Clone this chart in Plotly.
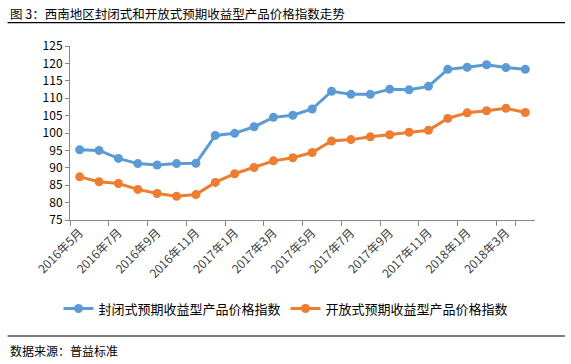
import plotly.graph_objects as go

months = ["2016年5月","2016年6月","2016年7月","2016年8月","2016年9月","2016年10月",
          "2016年11月","2016年12月","2017年1月","2017年2月","2017年3月","2017年4月",
          "2017年5月","2017年6月","2017年7月","2017年8月","2017年9月","2017年10月",
          "2017年11月","2017年12月","2018年1月","2018年2月","2018年3月","2018年4月"]
closed_idx = [95.2, 95.0, 92.7, 91.2, 90.8, 91.2, 91.3, 99.3, 99.9, 101.8, 104.5, 105.1,
              106.9, 112.0, 111.1, 111.1, 112.6, 112.4, 113.4, 118.3, 118.9, 119.6, 118.8, 118.3]
open_idx = [87.4, 86.0, 85.5, 83.8, 82.6, 81.8, 82.3, 85.8, 88.3, 90.1, 92.0, 92.9,
            94.4, 97.7, 98.1, 98.9, 99.5, 100.2, 100.8, 104.2, 105.8, 106.4, 107.1, 105.9]
yticks = [75, 80, 85, 90, 95, 100, 105, 110, 115, 120, 125]
name_closed = "封闭式预期收益型产品价格指数"
name_open = "开放式预期收益型产品价格指数"
title_text = "图 3：西南地区封闭式和开放式预期收益型产品价格指数走势"
source_text = "数据来源：普益标准"

FONT = "Noto Sans CJK SC"
W, H = 571, 364
ML, MR, MT, MB = 69.5, 36, 46, 144
pw, ph = W - ML - MR, H - MT - MB

def px(x):
    return (x - ML) / pw

def py(y):
    return (H - MB - y) / ph

fig = go.Figure()
fig.add_trace(go.Scatter(x=months, y=closed_idx, name=name_closed, mode="lines+markers",
                         line=dict(color="#5B9BD5", width=3),
                         marker=dict(color="#5B9BD5", size=9)))
fig.add_trace(go.Scatter(x=months, y=open_idx, name=name_open, mode="lines+markers",
                         line=dict(color="#ED7D31", width=3),
                         marker=dict(color="#ED7D31", size=9)))

fig.update_layout(
    width=W, height=H,
    margin=dict(l=ML, r=MR, t=MT, b=MB, autoexpand=False),
    paper_bgcolor="white", plot_bgcolor="white",
    font=dict(family=FONT, color="#000000"),
    showlegend=True,
    legend=dict(orientation="h", x=px(58), xanchor="left", y=py(308.5), yanchor="middle",
                font=dict(size=13, color="#000000"), itemwidth=30,
                entrywidth=182, entrywidthmode="pixels", tracegroupgap=0),
    xaxis=dict(type="category", tickmode="array", tickvals=months[::2], ticktext=months[::2],
               tickangle=-45, tickson="boundaries", ticks="outside", ticklen=5,
               tickcolor="#868686", showline=True, linecolor="#868686", linewidth=1,
               showgrid=False, zeroline=False, tickfont=dict(size=12, color="#404040"),
               range=[-0.5, len(months) - 0.5], automargin=False),
    yaxis=dict(range=[75, 125], tickvals=yticks, ticks="outside", ticklen=4,
               tickcolor="#868686", showline=True, linecolor="#868686", linewidth=1,
               showgrid=False, zeroline=False, tickfont=dict(size=12, color="#000000"),
               automargin=False),
)

fig.add_annotation(text=title_text, xref="paper", yref="paper", x=px(7), y=py(13.3),
                   xanchor="left", yanchor="middle", showarrow=False,
                   font=dict(size=12.5, color="#000000", family=FONT))
fig.add_annotation(text=source_text, xref="paper", yref="paper", x=px(7), y=py(350),
                   xanchor="left", yanchor="middle", showarrow=False,
                   font=dict(size=12, color="#000000", family=FONT))
fig.add_shape(type="line", xref="paper", yref="paper", x0=px(7), x1=px(565),
              y0=py(22.7), y1=py(22.7), line=dict(color="#000000", width=1.2))
fig.add_shape(type="line", xref="paper", yref="paper", x0=px(7), x1=px(565),
              y0=py(336), y1=py(336), line=dict(color="#000000", width=1.2))

fig.write_html("out.html", config={"displayModeBar": False},
               post_script="document.body.style.margin='0';document.body.style.overflow='hidden';")
